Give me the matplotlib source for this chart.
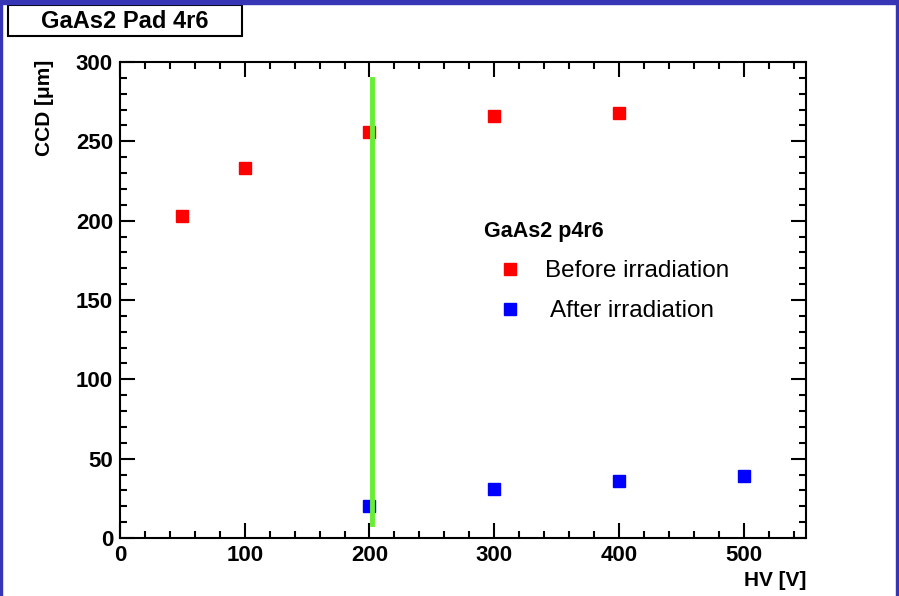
import numpy as np
import matplotlib
matplotlib.use('Agg')
import matplotlib.pyplot as plt
from matplotlib.patches import Rectangle
from matplotlib.ticker import MultipleLocator

plt.rcParams['font.family'] = ['Liberation Sans', 'DejaVu Sans']

# data
hv_before = [50, 100, 200, 300, 400]
ccd_before = [203, 233, 256, 266, 268]
hv_after = [200, 300, 400, 500]
ccd_after = [20, 31, 36, 39]
marker_hv = [202, 202]
marker_ccd = [9, 289]

W, H = 899, 596
fig = plt.figure(figsize=(W / 100, H / 100), dpi=100)
ax = fig.add_axes([120 / W, (H - 538) / H, (806 - 120) / W, (538 - 62) / H])

ax.plot(marker_hv, marker_ccd, color='#66ee33', lw=3.5, zorder=3)
ax.plot(hv_before, ccd_before, 's', color='#ff0000', ms=8.5, ls='none', zorder=2)
ax.plot(hv_after, ccd_after, 's', color='#0000ff', ms=8.5, ls='none', zorder=2)

ax.set_xlim(0, 550)
ax.set_ylim(0, 300)
ax.xaxis.set_major_locator(MultipleLocator(100))
ax.xaxis.set_minor_locator(MultipleLocator(20))
ax.yaxis.set_major_locator(MultipleLocator(50))
ax.yaxis.set_minor_locator(MultipleLocator(10))
ax.tick_params(which='both', direction='in', top=True, right=True, width=1.5)
ax.tick_params(which='major', length=11, labelsize=16, pad=5)
ax.tick_params(which='minor', length=5)
for lab in ax.get_xticklabels() + ax.get_yticklabels():
    lab.set_fontweight('bold')
for sp in ax.spines.values():
    sp.set_linewidth(1.5)

# legend
fig.text(484 / W, 1 - 231 / H, 'GaAs2 p4r6', fontsize=15.5, fontweight='bold', va='center')
fig.lines.append(plt.Line2D([510 / W], [1 - 269 / H], marker='s', color='#ff0000',
                            ms=8, transform=fig.transFigure))
fig.lines.append(plt.Line2D([510 / W], [1 - 309 / H], marker='s', color='#0000ff',
                            ms=8, transform=fig.transFigure))
fig.text(545 / W, 1 - 271 / H, 'Before irradiation', fontsize=17.5, va='center')
fig.text(550 / W, 1 - 311 / H, 'After irradiation', fontsize=17.5, va='center')

# axis titles
fig.text(45 / W, 1 - 60 / H, 'CCD [\u03bcm]', rotation=90, fontsize=15,
         fontweight='bold', ha='center', va='top')
fig.text(806 / W, 1 - 580 / H, 'HV [V]', fontsize=15, fontweight='bold',
         ha='right', va='center')

# title box
fig.patches.append(Rectangle((8 / W, 1 - 36 / H), 234 / W, 31 / H, fill=False,
                             ec='black', lw=1.5, transform=fig.transFigure))
fig.text(125 / W, 1 - 21 / H, 'GaAs2 Pad 4r6', fontsize=17, fontweight='bold',
         ha='center', va='center')

# blue slide frame
blue = '#3535b5'
fig.patches.append(Rectangle((0, 1 - 4 / H), 1, 4 / H, color=blue, transform=fig.transFigure))
fig.patches.append(Rectangle((0, 0), 2 / W, 1, color=blue, transform=fig.transFigure))
fig.patches.append(Rectangle((1 - 3 / W, 0), 3 / W, 1, color=blue, transform=fig.transFigure))

fig.savefig('out.png', dpi=100)
